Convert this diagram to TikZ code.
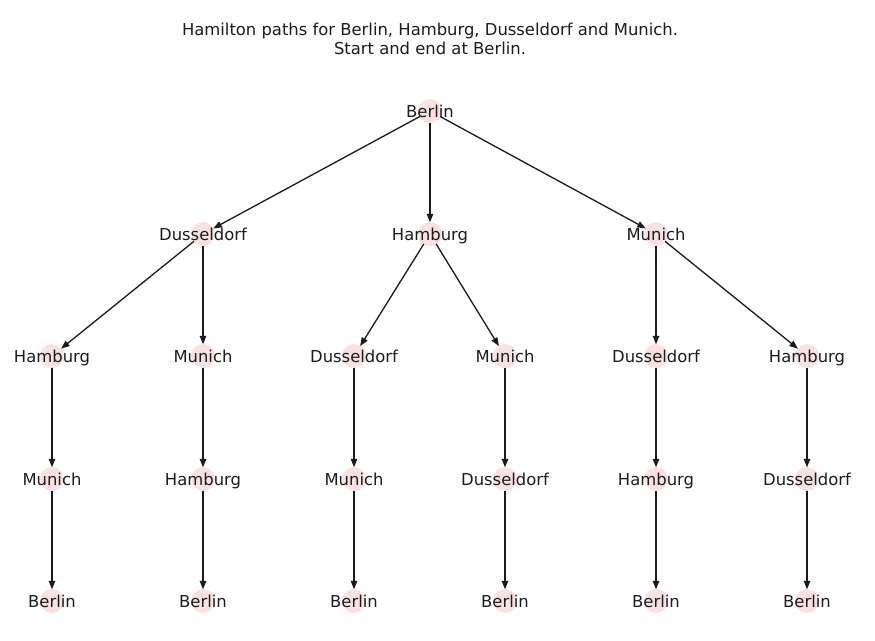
\documentclass[tikz,border=0pt]{standalone}
\usepackage{fontspec}
\setmainfont{DejaVu Sans}
\usetikzlibrary{arrows.meta}
\definecolor{dotpink}{HTML}{FBE2E2}
\definecolor{txt}{HTML}{1C1C1C}
\definecolor{edgec}{HTML}{1A1A1A}
\begin{document}
\begin{tikzpicture}[x=1pt,y=-1pt,
  dot/.style={circle,fill=dotpink,minimum size=24pt,inner sep=0pt},
  lbl/.style={font=\fontsize{16.4}{19}\selectfont,text=txt,inner sep=0pt,anchor=base,yshift=-6pt},
  ttl/.style={font=\fontsize{16.4}{19}\selectfont,text=txt,inner sep=0pt,anchor=base},
  edge/.style={draw=edgec,line width=1.3pt,-{Triangle[length=8.5pt,width=6.5pt]},shorten <=-0.5pt,shorten >=-0.5pt}]
\useasboundingbox (0,0) rectangle (875,640);
% title
\node[ttl] (title1) at (430,35) {Hamilton paths for Berlin, Hamburg, Dusseldorf and Munich.};
\node[ttl] (title2) at (430,54.5) {Start and end at Berlin.};
% nodes
\node[dot] (r) at (430,111) {};
\node[dot] (d) at (203,234) {};
\node[dot] (h) at (430,234) {};
\node[dot] (m) at (656,234) {};
\foreach \i/\x in {1/52,2/203,3/354,4/505,5/656,6/807}{
  \node[dot] (a\i) at (\x,356) {};
  \node[dot] (b\i) at (\x,479) {};
  \node[dot] (c\i) at (\x,601) {};
}
% edges
\draw[edge] (r) -- (d);
\draw[edge] (r) -- (h);
\draw[edge] (r) -- (m);
\draw[edge] (d) -- (a1);
\draw[edge] (d) -- (a2);
\draw[edge] (h) -- (a3);
\draw[edge] (h) -- (a4);
\draw[edge] (m) -- (a5);
\draw[edge] (m) -- (a6);
\foreach \i in {1,...,6}{
  \draw[edge] (a\i) -- (b\i);
  \draw[edge] (b\i) -- (c\i);
}
% labels
\node[lbl] at (r) {Berlin};
\node[lbl] at (d) {Dusseldorf};
\node[lbl] at (h) {Hamburg};
\node[lbl] at (m) {Munich};
\foreach \i/\t in {1/Hamburg,2/Munich,3/Dusseldorf,4/Munich,5/Dusseldorf,6/Hamburg}{
  \node[lbl] at (a\i) {\t};
}
\foreach \i/\t in {1/Munich,2/Hamburg,3/Munich,4/Dusseldorf,5/Hamburg,6/Dusseldorf}{
  \node[lbl] at (b\i) {\t};
}
\foreach \i in {1,...,6}{
  \node[lbl] at (c\i) {Berlin};
}
\end{tikzpicture}
\end{document}
